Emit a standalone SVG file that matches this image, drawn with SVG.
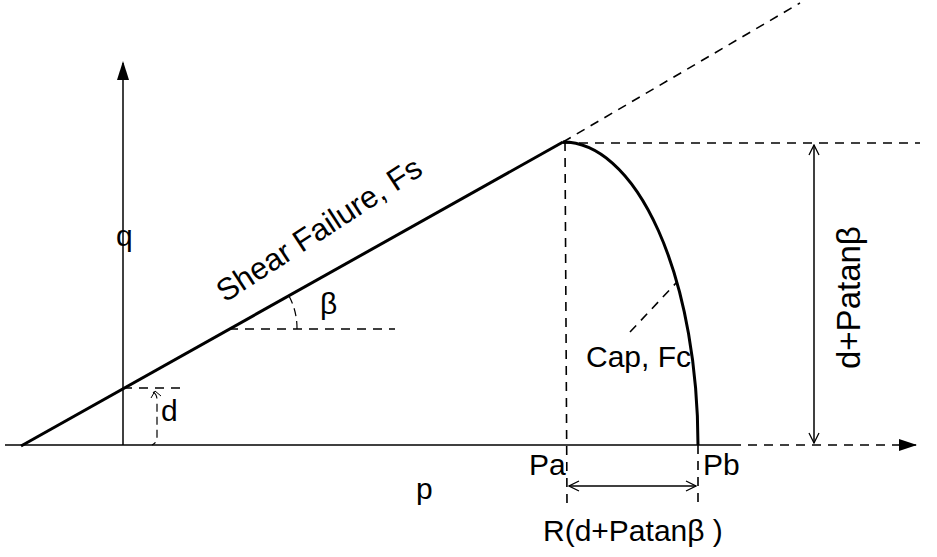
<svg xmlns="http://www.w3.org/2000/svg" width="937" height="557" viewBox="0 0 937 557">
<defs>
<style>
.thin{stroke:#000;stroke-width:1.5;fill:none}
.thick{stroke:#000;stroke-width:3;fill:none}
.dash{stroke:#000;stroke-width:1.6;fill:none;stroke-dasharray:9,7}
.t{font-family:"Liberation Sans",Arial,sans-serif;font-size:30px;fill:#000}
</style>
<marker id="open" viewBox="0 0 12 12" refX="11" refY="6" markerWidth="12" markerHeight="12" markerUnits="userSpaceOnUse" orient="auto-start-reverse">
<path d="M1,1 L11,6 L1,11" fill="none" stroke="#000" stroke-width="1.3"/>
</marker>
<marker id="fill" viewBox="0 0 18 12" refX="17" refY="6" markerWidth="18" markerHeight="12" markerUnits="userSpaceOnUse" orient="auto">
<path d="M0,0 L18,6 L0,12 Z" fill="#000"/>
</marker>
</defs>
<rect width="937" height="557" fill="#fff"/>
<g id="connectors">
<line class="thin" x1="5" y1="445" x2="732" y2="445"/>
<line class="dash" x1="732" y1="445" x2="916" y2="445" marker-end="url(#fill)"/>
<line class="thin" x1="123" y1="445" x2="123" y2="63"/>
<path d="M123,61 L117,80 L129,80 Z" fill="#000"/>
<line class="thick" x1="21" y1="446" x2="563" y2="142"/>
<line class="dash" x1="563" y1="142" x2="800" y2="3"/>
<path class="thick" d="M563,142 A135,303 0 0 1 698,445"/>
<line class="dash" x1="565" y1="142" x2="567" y2="505"/>
<line class="dash" x1="698" y1="445" x2="698" y2="505"/>
<line class="dash" x1="563" y1="143" x2="920" y2="143"/>
<line class="dash" x1="123" y1="388" x2="180" y2="388"/>
<line class="dash" x1="229" y1="329" x2="395" y2="329"/>
<path d="M297,329 A68,68 0 0 0 289,296" fill="none" stroke="#000" stroke-width="1.2" stroke-dasharray="8,5"/>
<path d="M153,392 Q157,394 157,400 L157,437 Q157,443 152,445" fill="none" stroke="#000" stroke-width="1.2" stroke-dasharray="8,5"/>
<path d="M151,398 L155,391 L161,396" fill="none" stroke="#000" stroke-width="1"/>
<line class="dash" x1="630" y1="332" x2="677" y2="282"/>
<line class="thin" x1="569" y1="486" x2="696" y2="486" stroke-width="1.3" marker-start="url(#open)" marker-end="url(#open)"/>
<line class="thin" x1="814" y1="145" x2="814" y2="443" stroke-width="1.3" marker-start="url(#open)" marker-end="url(#open)"/>
</g>
<g id="labels">
<text class="t" x="116" y="246">q</text>
<text class="t" x="416" y="499">p</text>
<text class="t" x="529" y="475">Pa</text>
<text class="t" x="703" y="475">Pb</text>
<text class="t" x="543" y="541">R(d+Patanβ )</text>
<text class="t" x="586" y="367">Cap, Fc</text>
<text class="t" x="320" y="314">β</text>
<text class="t" x="161" y="421">d</text>
<text class="t" style="font-size:31px" transform="translate(225,303) rotate(-33)">Shear Failure, Fs</text>
<text class="t" style="font-size:33px" transform="translate(860,369) rotate(-90)">d+Patanβ</text>
</g>
</svg>
